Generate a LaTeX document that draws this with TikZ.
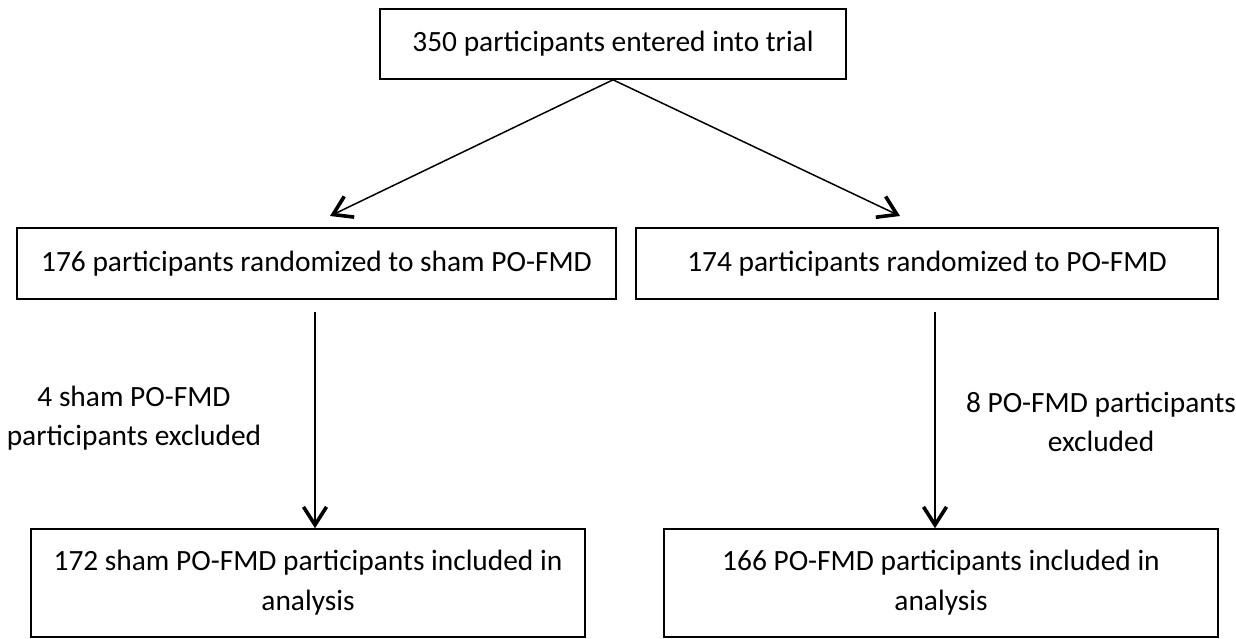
\documentclass[tikz,border=0pt]{standalone}
\usepackage{fontspec}
\setmainfont{Carlito}
\usetikzlibrary{arrows.meta}

\tikzset{
    box/.style={draw, line width=0.8pt, align=center, inner sep=0pt, font=\fontsize{14.7}{20}\selectfont},
    lbl/.style={align=center, font=\fontsize{14.7}{19.5}\selectfont},
    arr/.style={line width=0.75pt, -{Straight Barb[length=9pt, width=11.5pt, line width=1.8pt]}}
}

\begin{document}
\begin{tikzpicture}[x=0.5pt, y=-0.5pt]
        \useasboundingbox (0,0) rectangle (1236,638);
        \node[box, minimum width=233pt, minimum height=35pt] (entered) at (613,44) {350 participants entered into trial};
        \node[box, minimum width=299.5pt, minimum height=35.5pt] (sham) at (316.5,263.5) {176 participants randomized to sham PO-FMD};
        \node[box, minimum width=291pt, minimum height=35.5pt] (pofmd) at (927,263.5) {174 participants randomized to PO-FMD};
        \node[box, minimum width=277pt, minimum height=54pt] (shamin) at (308,583) {172 sham PO-FMD participants included in\\analysis};
        \node[box, minimum width=277pt, minimum height=54pt] (pofmdin) at (941,583) {166 PO-FMD participants included in\\analysis};
        \node[lbl] (shamex) at (134,418.5) {4 sham PO-FMD\\participants excluded};
        \node[lbl] (pofmdex) at (1101,422) {8 PO-FMD participants\\excluded};
        \coordinate (tipsham) at (330,216);
        \coordinate (tippofmd) at (900,216);
        \coordinate (startsham) at (315,312);
        \coordinate (startpofmd) at (935,312);
        \draw[arr] (entered.south) -- (tipsham);
        \draw[arr] (entered.south) -- (tippofmd);
        \draw[arr] (startsham) -- (startsham |- shamin.north);
        \draw[arr] (startpofmd) -- (startpofmd |- pofmdin.north);
    \end{tikzpicture}
\end{document}
